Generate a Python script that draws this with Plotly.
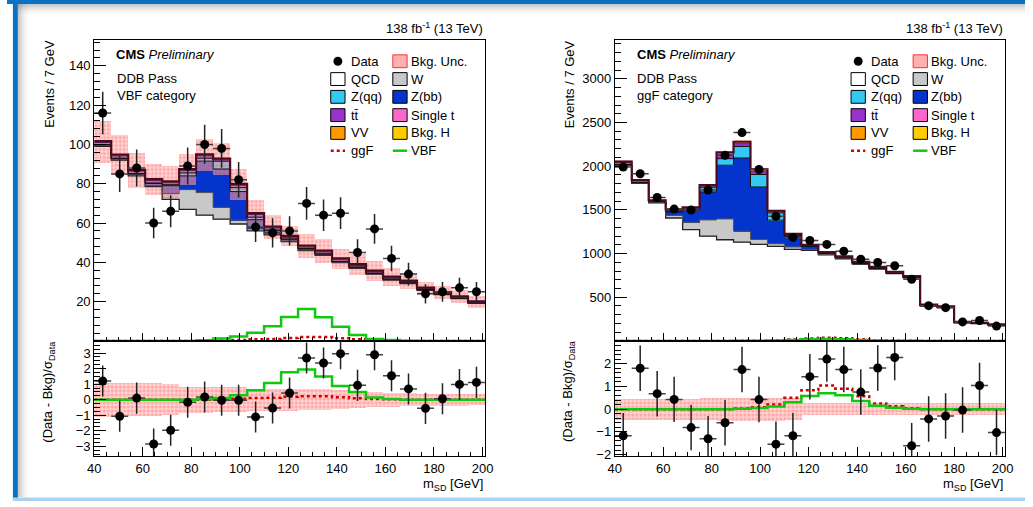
import numpy as np
import plotly.graph_objects as go

W_PX, H_PX = 1033, 507

# ------------------------------------------------------------------ data
mass = [43.5, 50.5, 57.5, 64.5, 71.5, 78.5, 85.5, 92.5, 99.5, 106.5, 113.5, 120.5,
        127.5, 134.5, 141.5, 148.5, 155.5, 162.5, 169.5, 176.5, 183.5, 190.5, 197.5]
bin_width = 7.0
mass_range = [40, 201]

# ---- VBF category (left)
vbf_data = [116, 85, 88, 60, 66, 89, 100, 98, 82, 58, 55, 56, 70, 64, 65, 45, 57, 42, 34, 24, 25, 27, 25]
vbf_qcd = [99.0, 92.0, 84.0, 78.5, 72.0, 67.0, 64.0, 62.0, 59.5, 56.0, 54.0, 50.5, 46.0, 43.5, 39.8, 37.0,
           34.0, 31.0, 29.2, 25.8, 23.6, 21.5, 19.1]
vbf_w = [0.5, 0.5, 0.6, 0.6, 3.0, 10.0, 11.5, 6.0, 2.0, 1.0, 0.6, 0.4, 0.3, 0.3, 0.2, 0.2, 0.2, 0.2, 0.1, 0.1, 0.1, 0.1, 0.1]
vbf_zbb = [0.3, 0.3, 0.4, 1.0, 4.0, 7.0, 16.0, 19.5, 14.5, 4.7, 1.5, 0.8, 0.5, 0.4, 0.3, 0.3, 0.2, 0.2, 0.2, 0.1, 0.1, 0.1, 0.1]
vbf_zqq = [0.2, 0.2, 0.2, 0.3, 0.5, 1.5, 1.5, 4.0, 2.0, 1.3, 0.3, 0.2, 0.2, 0.1, 0.1, 0.1, 0.1, 0.1, 0.1, 0.1, 0.1, 0.1, 0.1]
vbf_tt = [1.0, 1.1, 1.2, 1.2, 1.0, 1.2, 1.2, 0.6, 1.2, 1.3, 1.0, 0.8, 0.7, 0.9, 0.9, 0.8, 0.7, 0.7, 0.6, 0.6, 0.5, 0.5, 0.4]
vbf_st = [0.3, 0.3, 0.3, 0.3, 0.3, 0.3, 0.3, 0.3, 0.3, 0.3, 0.3, 0.3, 0.3, 0.3, 0.3, 0.3, 0.3, 0.3, 0.3, 0.2, 0.2, 0.2, 0.2]
vbf_vv = [0.2, 0.2, 0.2, 0.2, 0.2, 0.2, 0.2, 0.2, 0.2, 0.2, 0.2, 0.2, 0.2, 0.2, 0.2, 0.2, 0.2, 0.1, 0.1, 0.1, 0.1, 0.1, 0.1]
vbf_bkgh = [0.2, 0.2, 0.2, 0.2, 0.2, 0.2, 0.2, 0.2, 0.2, 0.2, 0.3, 0.3, 0.3, 0.3, 0.2, 0.2, 0.1, 0.1, 0.1, 0.1, 0.1, 0.1, 0.1]
vbf_unc = [10.7, 10.0, 9.0, 8.0, 8.0, 8.0, 8.0, 8.0, 8.0, 7.0, 6.0, 5.0, 6.0, 6.0, 5.0, 5.5, 5.0, 4.6, 4.2, 3.3, 3.3, 3.3, 3.0]
vbf_sig_ggf = [0, 0, 0, 0, 0, 0, 0, 0.2, 0.5, 0.9, 1.0, 1.5, 2.0, 2.0, 1.4, 0.8, 0.4, 0.2, 0, 0, 0, 0, 0]
vbf_sig_vbf = [0, 0, 0, 0, 0, 0, 0.3, 1.2, 2.2, 4.2, 7.5, 12.2, 16.2, 12.0, 7.2, 3.0, 1.0, 0.5, 0.1, 0, 0, 0, 0]
vbf_pull = [1.2, -1.07, 0.1, -2.85, -1.97, -0.17, 0.17, -0.04, -0.04, -1.11, -0.54, 0.43, 2.68, 2.36,
            2.96, 0.92, 2.89, 1.54, 0.69, -0.56, 0.06, 0.98, 1.11]
vbf_pull_unc = [1.1, 1.1, 1.05, 1.05, 1.0, 0.85, 0.85, 0.8, 0.8, 0.72, 0.7, 0.7, 0.68, 0.66, 0.62, 0.5,
                0.48, 0.45, 0.42, 0.4, 0.38, 0.38, 0.36]
vbf_pull_ggf = [0, 0, 0, 0, 0, 0, 0, 0.03, 0.06, 0.1, 0.12, 0.18, 0.22, 0.22, 0.16, 0.09, 0.04, 0.02, 0, 0, 0, 0, 0]
vbf_pull_vbf = [0, 0, 0, 0, 0, 0, 0.02, 0.1, 0.29, 0.6, 1.07, 1.77, 1.94, 1.49, 0.88, 0.5, 0.14, 0.04, 0, 0, 0, 0, 0]

# ---- ggF category (right)
ggf_data = [1990, 1913, 1642, 1509, 1498, 1728, 2124, 2385, 1962, 1427, 1185, 1150, 1105, 1026, 936, 897,
            860, 705, 404, 381, 218, 234, 170]
ggf_qcd = [2010, 1805, 1580, 1407, 1275, 1200, 1158, 1131, 1105, 1083, 1049, 1037, 985, 940, 878, 823,
           770, 723, 400, 382, 208, 198, 181]
ggf_w = [3, 3, 4, 30, 83, 185, 238, 125, 57, 29, 26, 10, 5, 3, 2, 2, 2, 1, 1, 1, 0.5, 0.5, 0.5]
ggf_zbb = [5, 5, 8, 40, 132, 320, 615, 838, 600, 271, 121, 35, 12, 8, 6, 4, 3, 2, 1, 1, 0.5, 0.5, 0.5]
ggf_zqq = [3, 2, 3, 8, 15, 55, 75, 132, 143, 82, 9, 3, 2, 2, 1, 1, 1, 1, 0.5, 0.5, 0.3, 0.3, 0.2]
ggf_tt = [20, 17, 9, 12, 14, 15, 45, 32, 36, 15, 12, 9, 8, 10, 11, 11, 10, 10, 8, 7, 5, 5, 4]
ggf_st = [5, 4, 2, 3, 4, 4, 12, 8, 9, 4, 3, 2, 2, 2, 3, 3, 3, 3, 2, 2, 1.5, 1.3, 1.2]
ggf_vv = [4, 3, 2, 3, 3, 4, 10, 8, 9, 4, 3, 2, 2, 2, 2, 2, 2, 2, 1.5, 1.5, 1.2, 0.9, 0.8]
ggf_bkgh = [3, 3, 2, 2, 2, 2, 5, 6, 6, 2, 2, 2, 2, 2, 2, 2, 1, 1, 1, 1, 1, 0.5, 0.5]
ggf_unc = [20, 18, 16, 15, 15, 18, 22, 25, 22, 18, 15, 13, 12, 12, 11, 10, 10, 10, 7, 7, 5, 5, 5]
ggf_sig_ggf = [0, 0, 0, 0, 0, 0, 0, 1, 3, 8, 17, 28, 35, 30, 18, 7, 3, 1, 0, 0, 0, 0, 0]
ggf_sig_vbf = [0, 0, 0, 0, 0, 0, 0, 1, 2, 5, 10, 19, 23, 20, 11, 4, 2, 1, 0, 0, 0, 0, 0]
ggf_pull = [-1.17, 1.8, 0.68, 0.43, -0.81, -1.3, -0.6, 1.74, 0.42, -1.54, -1.17, 1.43, 2.2, 1.74, 0.75,
            1.81, 2.27, -1.61, -0.43, -0.3, -0.04, 1.04, -1.03]
ggf_pull_unc = [0.47, 0.47, 0.47, 0.47, 0.47, 0.48, 0.5, 0.5, 0.5, 0.5, 0.48, 0.27, 0.27, 0.27, 0.27, 0.27,
                0.26, 0.26, 0.26, 0.26, 0.26, 0.26, 0.26]
ggf_pull_ggf = [0, 0, 0, 0, 0, 0, 0, 0.03, 0.08, 0.2, 0.5, 0.83, 1.04, 0.9, 0.57, 0.25, 0.13, 0.04, 0, 0, 0, 0, 0]
ggf_pull_vbf = [0, 0, 0, 0, 0, 0, 0, 0.02, 0.05, 0.12, 0.3, 0.58, 0.7, 0.61, 0.36, 0.15, 0.06, 0.02, 0, 0, 0, 0, 0]

comp_names = ["QCD", "W", "Z(bb)", "Z(qq)", "tt", "Single t", "VV", "Bkg. H"]
comp_colors = ["#ffffff", "#c8c8c8", "#0434cc", "#33c9f2", "#9a32cc", "#ff66cc", "#ff9900", "#ffcc00"]
C_GGF = "#d00000"
C_VBF = "#10c810"
C_UNC_BG = "rgba(255,175,175,0.55)"
C_UNC_FG = "rgba(255,40,40,0.55)"

FONT = "Liberation Sans, Arial, Helvetica, sans-serif"

# ------------------------------------------------------------------ helpers
def px(x):
    return x / W_PX


def py(y):
    return 1 - y / H_PX


centers = np.array(mass)
edges_lo = centers - bin_width / 2
step_x = list(edges_lo) + [edges_lo[-1] + bin_width]


def step_y(v):
    v = list(v)
    return v + [v[-1]]


fig = go.Figure()


def add_panel(xm, ym, xr, yr, comps, unc, sig_ggf, sig_vbf, data, pull, pull_unc, pull_ggf, pull_vbf):
    comps = np.array(comps, dtype=float)
    cum = np.cumsum(comps, axis=0)
    total = cum[-1]
    # stacked fills (overlay, top-most cumulative first)
    for k in reversed(range(len(comps))):
        fig.add_trace(go.Bar(x=mass, y=cum[k], width=bin_width, xaxis=xm, yaxis=ym,
                             marker=dict(color=comp_colors[k], line=dict(width=0)),
                             showlegend=False, hoverinfo="skip"))
    # outlines
    outline = [(0, "#222222", 1.3), (1, "#555555", 1.0), (2, "#111111", 1.0), (3, "#111111", 1.0),
               (4, "#5a1e6e", 1.0)]
    for k, col, lw in outline:
        fig.add_trace(go.Scatter(x=step_x, y=step_y(cum[k]), mode="lines", line_shape="hv",
                                 line=dict(color=col, width=lw), xaxis=xm, yaxis=ym,
                                 showlegend=False, hoverinfo="skip"))
    fig.add_trace(go.Scatter(x=step_x, y=step_y(total), mode="lines", line_shape="hv",
                             line=dict(color="#4a0c1c", width=2.2), xaxis=xm, yaxis=ym,
                             showlegend=False, hoverinfo="skip"))
    # background uncertainty band
    unc = np.array(unc, dtype=float)
    fig.add_trace(go.Bar(x=mass, y=2 * unc, base=total - unc, width=bin_width, xaxis=xm, yaxis=ym,
                         marker=dict(color=C_UNC_BG, line=dict(width=0),
                                     pattern=dict(shape=".", fgcolor=C_UNC_FG, size=4, solidity=0.45,
                                                  fillmode="overlay")),
                         showlegend=False, hoverinfo="skip"))
    # signals
    fig.add_trace(go.Scatter(x=step_x, y=step_y(sig_ggf), mode="lines", line_shape="hv",
                             line=dict(color=C_GGF, width=2.5, dash="dot"), xaxis=xm, yaxis=ym,
                             showlegend=False, hoverinfo="skip"))
    fig.add_trace(go.Scatter(x=step_x, y=step_y(sig_vbf), mode="lines", line_shape="hv",
                             line=dict(color=C_VBF, width=2.5), xaxis=xm, yaxis=ym,
                             showlegend=False, hoverinfo="skip"))
    # data
    fig.add_trace(go.Scatter(x=mass, y=data, mode="markers", xaxis=xm, yaxis=ym,
                             marker=dict(color="black", size=9),
                             error_y=dict(type="data", array=np.sqrt(np.array(data, dtype=float)),
                                          color="#222222", thickness=1.5, width=0),
                             error_x=dict(type="constant", value=bin_width / 2, color="#444444",
                                          thickness=1.5, width=0),
                             showlegend=False, hoverinfo="skip"))
    # ---- ratio / pull panel
    pu = np.array(pull_unc, dtype=float)
    fig.add_trace(go.Bar(x=mass, y=2 * pu, base=-pu, width=bin_width, xaxis=xr, yaxis=yr,
                         marker=dict(color=C_UNC_BG, line=dict(width=0),
                                     pattern=dict(shape=".", fgcolor=C_UNC_FG, size=4, solidity=0.45,
                                                  fillmode="overlay")),
                         showlegend=False, hoverinfo="skip"))
    fig.add_trace(go.Scatter(x=step_x, y=step_y(pull_ggf), mode="lines", line_shape="hv",
                             line=dict(color=C_GGF, width=2.5, dash="dot"), xaxis=xr, yaxis=yr,
                             showlegend=False, hoverinfo="skip"))
    fig.add_trace(go.Scatter(x=step_x, y=step_y(pull_vbf), mode="lines", line_shape="hv",
                             line=dict(color=C_VBF, width=2.5), xaxis=xr, yaxis=yr,
                             showlegend=False, hoverinfo="skip"))
    fig.add_trace(go.Scatter(x=mass, y=pull, mode="markers", xaxis=xr, yaxis=yr,
                             marker=dict(color="black", size=9),
                             error_y=dict(type="constant", value=1.0, color="#222222", thickness=1.5, width=0),
                             error_x=dict(type="constant", value=bin_width / 2, color="#444444",
                                          thickness=1.5, width=0),
                             showlegend=False, hoverinfo="skip"))


add_panel("x", "y", "x2", "y2",
          [vbf_qcd, vbf_w, vbf_zbb, vbf_zqq, vbf_tt, vbf_st, vbf_vv, vbf_bkgh],
          vbf_unc, vbf_sig_ggf, vbf_sig_vbf, vbf_data,
          vbf_pull, vbf_pull_unc, vbf_pull_ggf, vbf_pull_vbf)
add_panel("x3", "y3", "x4", "y4",
          [ggf_qcd, ggf_w, ggf_zbb, ggf_zqq, ggf_tt, ggf_st, ggf_vv, ggf_bkgh],
          ggf_unc, ggf_sig_ggf, ggf_sig_vbf, ggf_data,
          ggf_pull, ggf_pull_unc, ggf_pull_ggf, ggf_pull_vbf)

# ------------------------------------------------------------------ axes
LX = [px(88.5), px(485)]
RX = [px(616.7), px(1012.7)]
MAIN_Y = [py(345), py(40)]
RAT_Y = [py(461.7), py(345)]

tickfont = dict(family=FONT, size=13, color="black")


def xaxis(domain, anchor, labels):
    return dict(domain=domain, anchor=anchor, range=mass_range, showline=True, mirror=True,
                linecolor="black", linewidth=1, ticks="inside", ticklen=9 if labels else 8,
                tickcolor="black", tickwidth=1, showgrid=False, zeroline=False,
                tick0=0, dtick=20, showticklabels=labels, tickfont=tickfont,
                minor=dict(ticks="inside", ticklen=4, tickcolor="black", tickmode="linear",
                           tick0=0, dtick=5, showgrid=False))


def yaxis(domain, anchor, rng, vals, minor_dt, tl=12):
    return dict(domain=domain, anchor=anchor, range=rng, showline=True, mirror=True,
                linecolor="black", linewidth=1, ticks="inside", ticklen=tl, tickcolor="black",
                tickwidth=1, showgrid=False, zeroline=False, tickmode="array", tickvals=vals,
                ticktext=[("\u2212" + str(abs(v)) if v < 0 else str(v)) for v in vals],
                tickfont=tickfont,
                minor=dict(ticks="inside", ticklen=6, tickcolor="black", tickmode="linear",
                           tick0=0, dtick=minor_dt, showgrid=False))


layout = dict(
    width=W_PX, height=H_PX, autosize=False,
    margin=dict(l=0, r=0, t=0, b=0),
    paper_bgcolor="white", plot_bgcolor="white",
    barmode="overlay", bargap=0, showlegend=False,
    font=dict(family=FONT, size=13, color="black"),
    xaxis=xaxis(LX, "y", False),
    xaxis2=xaxis(LX, "y2", True),
    xaxis3=xaxis(RX, "y3", False),
    xaxis4=xaxis(RX, "y4", True),
    yaxis=yaxis(MAIN_Y, "x", [0, 153.4], [20, 40, 60, 80, 100, 120, 140], 4),
    yaxis2=yaxis(RAT_Y, "x2", [-3.64, 3.78], [-3, -2, -1, 0, 1, 2, 3], 0.25),
    yaxis3=yaxis(MAIN_Y, "x3", [0, 3450], [500, 1000, 1500, 2000, 2500, 3000], 100),
    yaxis4=yaxis(RAT_Y, "x4", [-2.07, 3.0], [-2, -1, 0, 1, 2], 0.2),
)
fig.update_layout(**layout)

# ------------------------------------------------------------------ texts, legend, decoration
ann = []
shapes = []


def text(x, y, s, xanchor="left", size=13, angle=0, yanchor="middle"):
    ann.append(dict(x=px(x), y=py(y), xref="paper", yref="paper", text=s, showarrow=False,
                    xanchor=xanchor, yanchor=yanchor, textangle=angle,
                    font=dict(family=FONT, size=size, color="black")))


def box(x0, y0, x1, y1, fill, line="black", lw=1):
    shapes.append(dict(type="rect", xref="paper", yref="paper", x0=px(x0), x1=px(x1),
                       y0=py(y1), y1=py(y0), fillcolor=fill, line=dict(color=line, width=lw)))


legend_rows = [62, 80, 98, 116.5, 134.5, 152.5]
legend_items = [
    ("Data", "data", None), ("Bkg. Unc.", "unc", None),
    ("QCD", "box", comp_colors[0]), ("W", "box", comp_colors[1]),
    ("Z(qq)", "box", comp_colors[3]), ("Z(bb)", "box", comp_colors[2]),
    ("tt\u0304", "box", comp_colors[4]), ("Single t", "box", comp_colors[5]),
    ("VV", "box", comp_colors[6]), ("Bkg. H", "box", comp_colors[7]),
    ("ggF", "ggf", None), ("VBF", "vbf", None),
]

for off, cat in [(0, "VBF category"), (528, "ggF category")]:
    text(485 + off, 28, "138 fb<sup>-1</sup> (13 TeV)", xanchor="right")
    text(109 + off, 55, "<b>CMS</b> <i>Preliminary</i>")
    text(109.5 + off, 79.5, "DDB Pass")
    text(109.5 + off, 96.5, cat)
    text(485 + off, 480, "m<sub>SD</sub> [GeV]", xanchor="right", yanchor="top")
    text(43.5 + off, 85, "Events / 7 GeV", xanchor="center", angle=-90)
    text(42 + off, 396, "(Data - Bkg)/\u03c3<sub>Data</sub>", xanchor="center", angle=-90)
    for i, (label, kind, col) in enumerate(legend_items):
        row = legend_rows[i // 2]
        c = i % 2
        bx0 = (328.5 if c == 0 else 391.5) + off
        bx1 = bx0 + 14.5
        tx = (347 if c == 0 else 408) + off
        if kind == "box":
            box(bx0, row - 6.5, bx1, row + 6.5, col)
        elif kind == "unc":
            box(bx0, row - 6.5, bx1, row + 6.5, "rgba(255,150,150,0.75)", line="#ff3030")
        elif kind == "data":
            cx = (bx0 + bx1) / 2
            shapes.append(dict(type="circle", xref="paper", yref="paper", x0=px(cx - 4.5), x1=px(cx + 4.5),
                               y0=py(row + 4.5), y1=py(row - 4.5), fillcolor="black",
                               line=dict(color="black", width=0)))
        elif kind in ("ggf", "vbf"):
            shapes.append(dict(type="line", xref="paper", yref="paper", x0=px(bx0), x1=px(bx1),
                               y0=py(row), y1=py(row),
                               line=dict(color=C_GGF if kind == "ggf" else C_VBF, width=2.5,
                                         dash="dot" if kind == "ggf" else "solid")))
        text(tx, row, label)

# slide decoration: blue border and soft shadow
for i, a in enumerate([0.34, 0.26, 0.19, 0.13, 0.08, 0.05, 0.025]):
    shapes.append(dict(type="rect", xref="paper", yref="paper", layer="below",
                       x0=px(11), x1=px(W_PX), y0=py(4 + 1.5 * (i + 1)), y1=py(4 + 1.5 * i),
                       fillcolor="rgba(90,90,90,%.3f)" % a, line=dict(width=0)))
    shapes.append(dict(type="rect", xref="paper", yref="paper", layer="below",
                       x0=px(11 + 1.5 * i), x1=px(11 + 1.5 * (i + 1)), y0=py(503), y1=py(4),
                       fillcolor="rgba(90,90,90,%.3f)" % a, line=dict(width=0)))
shapes.append(dict(type="rect", xref="paper", yref="paper", layer="below",
                   x0=0, x1=1, y0=py(4), y1=1, fillcolor="#0a72c4", line=dict(width=0)))
shapes.append(dict(type="rect", xref="paper", yref="paper", layer="below",
                   x0=px(6), x1=px(11), y0=py(507), y1=1, fillcolor="#0a72c4", line=dict(width=0)))
shapes.append(dict(type="rect", xref="paper", yref="paper", layer="below",
                   x0=px(6), x1=1, y0=0, y1=py(503.5), fillcolor="#a9d2f0", line=dict(width=0)))

fig.update_layout(annotations=ann, shapes=shapes)
fig.write_html("out.html")
